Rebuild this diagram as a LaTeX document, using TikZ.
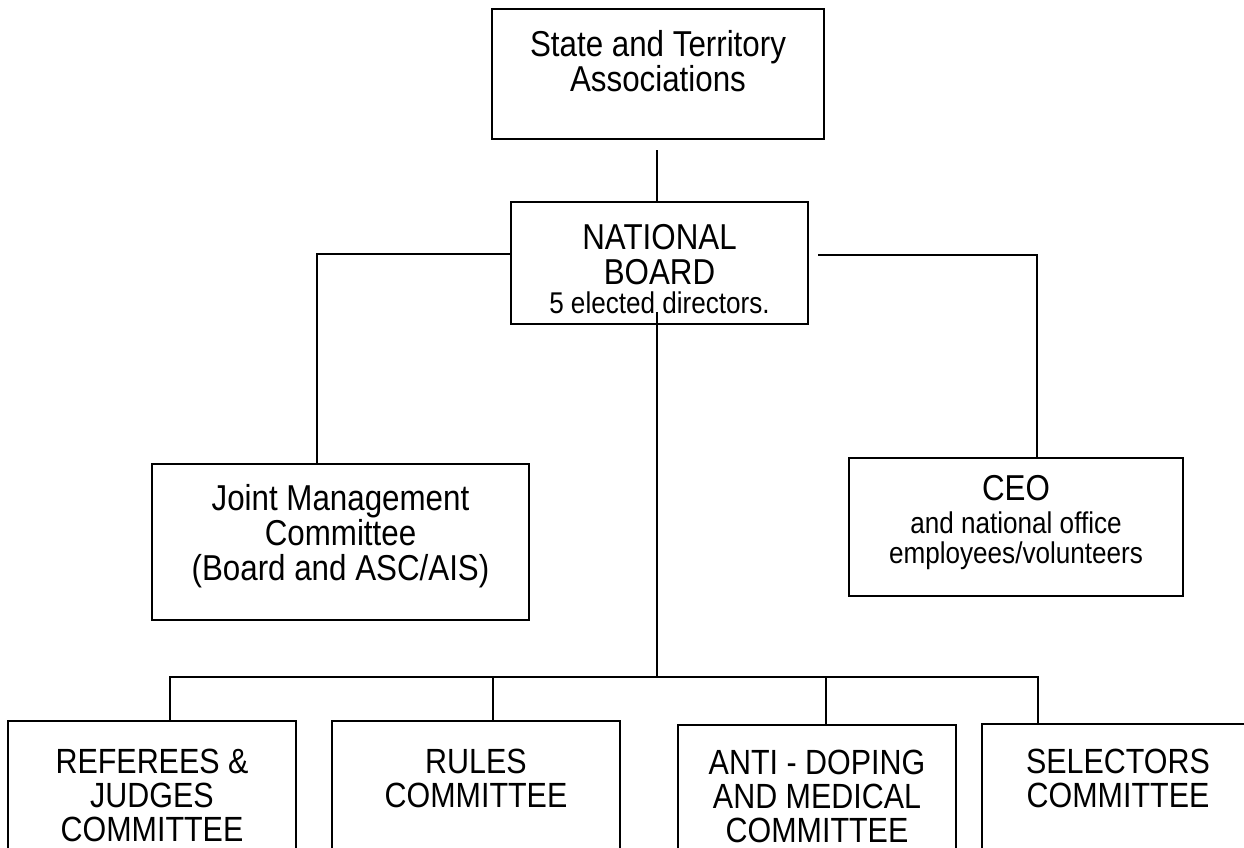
\documentclass[tikz,border=0pt]{standalone}
\usepackage{fontspec}
\setmainfont{Liberation Sans}[FakeStretch=0.87]
\usetikzlibrary{calc}
\tikzset{
  box/.style={draw, line width=1.5pt, inner sep=0pt},
  conn/.style={line width=2pt, line join=miter},
  big/.style={font=\fontsize{36}{35}\selectfont, align=center, inner sep=0pt, anchor=north},
  bottomtxt/.style={font=\fontsize{35}{34}\selectfont, align=center, inner sep=0pt, anchor=north},
  small/.style={font=\fontsize{30}{30}\selectfont, align=center, inner sep=0pt, anchor=north},
}
\begin{document}
\begin{tikzpicture}[x=1pt,y=-1pt]
\useasboundingbox (0,0) rectangle (1244,848);
\fill[white] (0,0) rectangle (1244,848);
\clip (0,0) rectangle (1244,848);

% boxes
\node[box, minimum width=332pt, minimum height=130pt] (st) at (658,74) {};
\node[box, minimum width=297pt, minimum height=122pt] (nb) at (659.5,263) {};
\node[box, minimum width=377pt, minimum height=156pt] (jmc) at (340.5,542) {};
\node[box, minimum width=334pt, minimum height=138pt] (ceo) at (1016,527) {};
\node[box, minimum width=288pt, minimum height=179pt] (ref) at (152,810.5) {};
\node[box, minimum width=288pt, minimum height=179pt] (rul) at (476,810.5) {};
\node[box, minimum width=278pt, minimum height=179pt] (anti) at (817,814.5) {};
\node[box, minimum width=272pt, minimum height=179pt] (sel) at (1118,813.5) {};

% texts
\node[big] (stT) at (658,30) {State and Territory\\Associations};
\node[big] (nbT) at (659.5,224) {NATIONAL\\BOARD};
\node[small] (nbS) at (659.5,292) {5 elected directors.};
\node[big] (jmcT) at (340.5,484) {Joint Management\\Committee\\(Board and ASC/AIS)};
\node[big] (ceoT) at (1016,475) {CEO};
\node[small] (ceoS) at (1016,512) {and national office\\employees/volunteers};
\node[bottomtxt] (refT) at (152,749) {REFEREES \&\\JUDGES\\COMMITTEE};
\node[bottomtxt] (rulT) at (476,749) {RULES\\COMMITTEE};
\node[bottomtxt] (antiT) at (817,750) {ANTI - DOPING\\AND MEDICAL\\COMMITTEE};
\node[bottomtxt] (selT) at (1118,749) {SELECTORS\\COMMITTEE};

% connectors
\coordinate (a1) at (657,150);
\draw[conn] (a1) -- (a1 |- nb.north);

\coordinate (lc) at (317,254);
\draw[conn] (nb.west |- lc) -- (lc) -- (lc |- jmc.north);

\coordinate (rs) at (818,255);
\coordinate (rc) at (1037,255);
\draw[conn] (rs) -- (rc) -- (rc |- ceo.north);

\coordinate (cs) at (657,312);
\coordinate (bus) at (657,677);
\draw[conn] (cs) -- (bus);

\coordinate (bl) at (170,677);
\coordinate (b2) at (493,677);
\coordinate (b3) at (826,677);
\coordinate (br) at (1038,677);
\draw[conn] (bl |- ref.north) -- (bl) -- (br) -- (br |- sel.north);
\draw[conn] (b2) -- (b2 |- rul.north);
\draw[conn] (b3) -- (b3 |- anti.north);
\end{tikzpicture}
\end{document}
